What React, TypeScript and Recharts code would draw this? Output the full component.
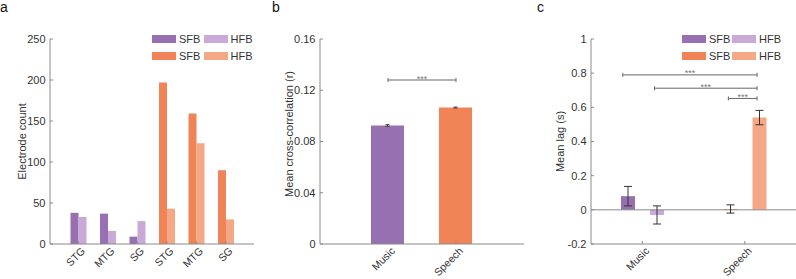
import React from 'react';
import { BarChart, Bar, XAxis, YAxis, Cell, ErrorBar, ReferenceLine } from 'recharts';

// panel a: electrode counts per region
const regionLabels = ['STG', 'MTG', 'SG', 'STG', 'MTG', 'SG'];
const regionStimulus = ['music', 'music', 'music', 'speech', 'speech', 'speech'];
const countSFB = [38, 37, 9, 197, 159, 90];
const countHFB = [33, 16, 28, 43, 123, 30];
const countTicks = [0, 50, 100, 150, 200, 250];

// panel b: mean cross-correlation
const corrConditions = ['Music', 'Speech'];
const corrMean = [0.0925, 0.1065];
const corrErr = [0.0007, 0.0004];
const corrTicks = [0, 0.04, 0.08, 0.12, 0.16];
const corrBrackets = [{ x1: 1, x2: 2, y: 0.128 }];

// panel c: mean lag
const lagConditions = ['Music', 'Speech'];
const lagStimulus = ['music', 'speech'];
const lagSFB = [0.08, 0.005];
const lagSFBErr = [0.057, 0.024];
const lagHFB = [-0.03, 0.54];
const lagHFBErr = [0.053, 0.042];
const lagTicks = [-0.2, 0, 0.2, 0.4, 0.6, 0.8, 1];
const lagBrackets = [
  { x1: 0.81, x2: 2.12, y: 0.79 },
  { x1: 1.12, x2: 2.12, y: 0.712 },
  { x1: 1.84, x2: 2.12, y: 0.652 },
];

const palette: Record<string, { sfb: string; hfb: string }> = {
  music: { sfb: '#9670b0', hfb: '#c9a9d7' },
  speech: { sfb: '#f08457', hfb: '#f5a886' },
};

const FONT = '"Liberation Sans", Arial, sans-serif';
const AXIS = '#8a8a8a';
const TEXT = '#333';

const countData = regionLabels.map((name, i) => ({
  name,
  stim: regionStimulus[i],
  sfb: countSFB[i],
  hfb: countHFB[i],
}));

const corrData = corrConditions.map((name, i) => ({
  name,
  pos: i + 1,
  mean: corrMean[i],
  err: corrErr[i],
}));

const lagData = lagConditions.map((name, i) => ({
  name,
  pos: i + 1,
  stim: lagStimulus[i],
  sfb: lagSFB[i],
  sfbErr: lagSFBErr[i],
  hfb: lagHFB[i],
  hfbErr: lagHFBErr[i],
}));

const RotTick = (props: any) => {
  const { x, y, payload, names } = props;
  const label = names ? names[payload.value - 1] : payload.value;
  return (
    <g transform={`translate(${x + 5},${y + 5})`}>
      <text textAnchor="end" transform="rotate(-45)" dy="0.35em" fontSize={10.5} fill={TEXT} fontFamily={FONT}>
        {label}
      </text>
    </g>
  );
};

const YTitle = ({ text, cx, cy }: { text: string; cx: number; cy: number }) => (
  <text
    x={cx}
    y={cy}
    transform={`rotate(-90 ${cx} ${cy})`}
    textAnchor="middle"
    dominantBaseline="central"
    fontSize={11}
    fill={TEXT}
    fontFamily={FONT}
  >
    {text}
  </text>
);

const legendRows = [
  [
    { label: 'SFB', color: palette.music.sfb },
    { label: 'HFB', color: palette.music.hfb },
  ],
  [
    { label: 'SFB', color: palette.speech.sfb },
    { label: 'HFB', color: palette.speech.hfb },
  ],
];

const LegendBlock = ({ left, top, pitch }: { left: number; top: number; pitch: number }) => (
  <div style={{ position: 'absolute', left, top, fontFamily: FONT, fontSize: 11, color: TEXT }}>
    {legendRows.map((row, r) => (
      <div key={r} style={{ display: 'flex', alignItems: 'center', height: 16.5 }}>
        {row.map((item, k) => (
          <div key={k} style={{ display: 'flex', alignItems: 'center', width: pitch }}>
            <span style={{ display: 'inline-block', width: 24, height: 8, background: item.color, marginRight: 3 }} />
            <span>{item.label}</span>
          </div>
        ))}
      </div>
    ))}
  </div>
);

const PanelLetter = ({ left, letter }: { left: number; letter: string }) => (
  <div style={{ position: 'absolute', left, top: 0, fontFamily: FONT, fontSize: 14, lineHeight: '14px', color: '#111' }}>
    {letter}
  </div>
);

const brackets = (list: { x1: number; x2: number; y: number }[], tick: number) =>
  list.flatMap((b, i) => [
    <ReferenceLine
      key={`h${i}`}
      segment={[{ x: b.x1, y: b.y }, { x: b.x2, y: b.y }]}
      stroke="#666"
      strokeWidth={1}
      ifOverflow="visible"
      label={{ value: '***', position: 'top', offset: -1.5, fontSize: 9, fill: '#777', fontFamily: FONT }}
    />,
    <ReferenceLine key={`l${i}`} ifOverflow="visible" segment={[{ x: b.x1, y: b.y - tick }, { x: b.x1, y: b.y + tick }]} stroke="#666" />,
    <ReferenceLine key={`r${i}`} ifOverflow="visible" segment={[{ x: b.x2, y: b.y - tick }, { x: b.x2, y: b.y + tick }]} stroke="#666" />,
  ]);

const yAxisCommon = {
  tickSize: -3,
  tickMargin: 7.5,
  axisLine: { stroke: AXIS },
  tickLine: { stroke: AXIS },
  tick: { fontSize: 11, fill: TEXT, fontFamily: FONT },
  interval: 0 as const,
};

const xAxisCommon = {
  tickSize: -3,
  tickMargin: 3,
  height: 30,
  axisLine: { stroke: AXIS },
  tickLine: { stroke: AXIS },
  interval: 0 as const,
};

export default function App() {
  return (
    <div style={{ position: 'absolute', left: 0, top: 0, width: 796, height: 279, background: '#fff', overflow: 'hidden' }}>
      <PanelLetter left={0} letter="a" />
      <PanelLetter left={272} letter="b" />
      <PanelLetter left={537} letter="c" />

      <div style={{ position: 'absolute', left: 0, top: 0 }}>
        <BarChart width={270} height={279} data={countData} margin={{ top: 39, right: 16, bottom: 5, left: 0 }} barGap={0}>
          <XAxis dataKey="name" {...xAxisCommon} tick={<RotTick />} padding={{ left: 13.5, right: 13.5 }} />
          <YAxis
            {...yAxisCommon}
            width={50}
            domain={[0, 250]}
            ticks={countTicks}
            label={<YTitle text="Electrode count" cx={22} cy={141.5} />}
          />
          <Bar dataKey="sfb" barSize={8} isAnimationActive={false}>
            {countData.map((d, i) => (
              <Cell key={i} fill={palette[d.stim].sfb} />
            ))}
          </Bar>
          <Bar dataKey="hfb" barSize={8} isAnimationActive={false}>
            {countData.map((d, i) => (
              <Cell key={i} fill={palette[d.stim].hfb} />
            ))}
          </Bar>
        </BarChart>
      </div>
      <LegendBlock left={152} top={31} pitch={51.5} />

      <div style={{ position: 'absolute', left: 270, top: 0 }}>
        <BarChart width={260} height={279} data={corrData} margin={{ top: 39, right: 6, bottom: 5, left: 0 }}>
          <XAxis
            dataKey="pos"
            type="number"
            domain={[0, 3]}
            ticks={[1, 2]}
            allowDataOverflow
            {...xAxisCommon}
            tick={<RotTick names={corrConditions} />}
          />
          <YAxis
            {...yAxisCommon}
            width={50}
            domain={[0, 0.16]}
            ticks={corrTicks}
            label={<YTitle text="Mean cross-correlation (r)" cx={18.5} cy={134} />}
          />
          <Bar dataKey="mean" barSize={33} isAnimationActive={false}>
            {corrData.map((d, i) => (
              <Cell key={i} fill={i === 0 ? palette.music.sfb : palette.speech.sfb} />
            ))}
            <ErrorBar dataKey="err" width={2} stroke="#444" strokeWidth={1} direction="y" isAnimationActive={false} />
          </Bar>
          {brackets(corrBrackets, 0.0016)}
        </BarChart>
      </div>

      <div style={{ position: 'absolute', left: 531, top: 0 }}>
        <BarChart width={265} height={279} data={lagData} margin={{ top: 39, right: 0, bottom: 5, left: 0 }} barGap={15}>
          <XAxis
            dataKey="pos"
            type="number"
            domain={[0.5, 2.5]}
            ticks={[1, 2]}
            allowDataOverflow
            {...xAxisCommon}
            tick={<RotTick names={lagConditions} />}
          />
          <YAxis
            {...yAxisCommon}
            width={60}
            domain={[-0.2, 1]}
            ticks={lagTicks}
            label={<YTitle text="Mean lag (s)" cx={29} cy={141.5} />}
          />
          <ReferenceLine y={0} stroke={AXIS} strokeWidth={1} />
          <Bar dataKey="sfb" barSize={14} isAnimationActive={false}>
            {lagData.map((d, i) => (
              <Cell key={i} fill={palette[d.stim].sfb} />
            ))}
            <ErrorBar dataKey="sfbErr" width={4} stroke="#333" strokeWidth={1} direction="y" isAnimationActive={false} />
          </Bar>
          <Bar dataKey="hfb" barSize={14} isAnimationActive={false}>
            {lagData.map((d, i) => (
              <Cell key={i} fill={palette[d.stim].hfb} />
            ))}
            <ErrorBar dataKey="hfbErr" width={4} stroke="#333" strokeWidth={1} direction="y" isAnimationActive={false} />
          </Bar>
          {brackets(lagBrackets, 0.012)}
        </BarChart>
      </div>
      <LegendBlock left={682} top={31} pitch={50} />
    </div>
  );
}
